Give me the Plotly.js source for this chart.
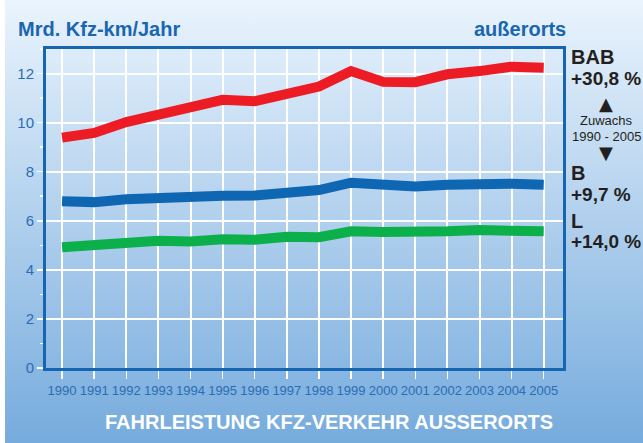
<!DOCTYPE html>
<html>
<head>
<meta charset="utf-8">
<script src="https://cdn.plot.ly/plotly-3.0.1.min.js"></script>
<style>
  html, body { margin: 0; padding: 0; background: #ffffff; }
  #chart { width: 643px; height: 443px; }
</style>
</head>
<body>
<div id="chart"></div>
<script>
// ---- data ----
const years = [1990, 1991, 1992, 1993, 1994, 1995, 1996, 1997, 1998, 1999, 2000, 2001, 2002, 2003, 2004, 2005];
const bab = [9.39, 9.58, 10.02, 10.32, 10.70, 10.93, 10.87, 11.18, 11.47, 12.10, 11.66, 11.65, 11.97, 12.10, 12.28, 12.24];
const bStr = [6.80, 6.76, 6.88, 6.96, 6.99, 7.02, 7.03, 7.18, 7.25, 7.55, 7.44, 7.40, 7.47, 7.51, 7.51, 7.47];
const lStr = [4.92, 5.03, 5.09, 5.19, 5.16, 5.25, 5.23, 5.35, 5.33, 5.57, 5.54, 5.53, 5.57, 5.62, 5.62, 5.57];
const yTicks = [0, 2, 4, 6, 8, 10, 12];
const seriesNames = ['BAB', 'B', 'L'];
const growthLabels = ['+30,8 %', '+9,7 %', '+14,0 %'];

// ---- layout helpers ----
const W = 643, H = 443;
const M = { l: 46, r: 80, t: 49, b: 75 };
const PW = W - M.l - M.r, PH = H - M.t - M.b;
const px = (p) => (p - M.l) / PW;
const py = (p) => (H - M.b - p) / PH;

const bgSvg = '<svg xmlns="http://www.w3.org/2000/svg" width="100" height="100" preserveAspectRatio="none">' +
  '<defs><linearGradient id="g" x1="0" y1="0" x2="0" y2="1">' +
  '<stop offset="0" stop-color="#eaf4fd"/><stop offset="1" stop-color="#76abdd"/>' +
  '</linearGradient></defs><rect width="100" height="100" fill="url(#g)"/></svg>';
const bgUrl = 'data:image/svg+xml;base64,' + btoa(bgSvg);

const colors = ['#ed1c24', '#0f66b3', '#0cb04a'];
const series = [bab, bStr, lStr];

const traces = series.map((vals, i) => ({
  x: years, y: vals, name: seriesNames[i], type: 'scatter', mode: 'lines',
  line: { color: colors[i], width: 10 }, showlegend: false, hoverinfo: 'x+y+name'
}));

const dark = '#231f20';
const blue = '#1a66b0';
const FF = 'Liberation Sans, Arial, sans-serif';
const annotations = [
  { text: '<b>außerorts</b>', x: px(568), y: py(29), xanchor: 'right', yanchor: 'middle',
    font: { family: FF, size: 20, color: blue } },
  { text: '<b>' + seriesNames[0] + '</b>', x: px(569), y: py(57), xanchor: 'left', yanchor: 'middle',
    font: { family: FF, size: 20, color: dark } },
  { text: '<b>' + growthLabels[0] + '</b>', x: px(569), y: py(78), xanchor: 'left', yanchor: 'middle',
    font: { family: FF, size: 19, color: dark } },
  { text: '▲', x: px(606), y: py(103), xanchor: 'center', yanchor: 'middle',
    font: { family: 'DejaVu Sans, sans-serif', size: 18, color: dark } },
  { text: 'Zuwachs', x: px(606), y: py(120), xanchor: 'center', yanchor: 'middle',
    font: { family: FF, size: 13, color: dark } },
  { text: '1990 - 2005', x: px(606), y: py(136), xanchor: 'center', yanchor: 'middle',
    font: { family: FF, size: 13, color: dark } },
  { text: '▼', x: px(606), y: py(152), xanchor: 'center', yanchor: 'middle',
    font: { family: 'DejaVu Sans, sans-serif', size: 18, color: dark } },
  { text: '<b>' + seriesNames[1] + '</b>', x: px(569), y: py(173), xanchor: 'left', yanchor: 'middle',
    font: { family: FF, size: 20, color: dark } },
  { text: '<b>' + growthLabels[1] + '</b>', x: px(569), y: py(194), xanchor: 'left', yanchor: 'middle',
    font: { family: FF, size: 19, color: dark } },
  { text: '<b>' + seriesNames[2] + '</b>', x: px(569), y: py(221), xanchor: 'left', yanchor: 'middle',
    font: { family: FF, size: 20, color: dark } },
  { text: '<b>' + growthLabels[2] + '</b>', x: px(569), y: py(241), xanchor: 'left', yanchor: 'middle',
    font: { family: FF, size: 19, color: dark } },
  { text: '<b>FAHRLEISTUNG KFZ-VERKEHR AUSSERORTS</b>', x: px(329), y: py(422), xanchor: 'center', yanchor: 'middle',
    font: { family: FF, size: 20, color: '#ffffff' } }
].map(a => Object.assign({ xref: 'paper', yref: 'paper', showarrow: false }, a));

const layout = {
  width: W, height: H,
  margin: M,
  paper_bgcolor: '#ffffff',
  plot_bgcolor: 'rgba(0,0,0,0)',
  title: {
    text: '<b>Mrd. Kfz-km/Jahr</b>', xref: 'container', yref: 'container',
    x: 18 / W, xanchor: 'left', y: 1 - 29 / H, yanchor: 'middle',
    font: { family: FF, size: 20, color: blue }
  },
  images: [{
    source: bgUrl, xref: 'paper', yref: 'paper',
    x: px(5), y: py(0), sizex: (W - 5) / PW, sizey: H / PH,
    xanchor: 'left', yanchor: 'top', sizing: 'stretch', layer: 'below'
  }],
  xaxis: {
    range: [1989.5, 2005.6], tickvals: years, ticktext: years.map(String),
    showgrid: true, gridcolor: '#ffffff', gridwidth: 2,
    ticks: 'outside', ticklen: 8, tickwidth: 1.5, tickcolor: '#ffffff',
    showline: true, mirror: true, linecolor: '#1565b0', linewidth: 3,
    zeroline: false, fixedrange: true,
    tickfont: { family: FF, size: 13, color: '#2a6db5' }
  },
  yaxis: {
    range: [0, 13], tickvals: yTicks,
    showgrid: true, gridcolor: '#ffffff', gridwidth: 2,
    ticks: 'outside', ticklen: 6, tickwidth: 1.5, tickcolor: '#ffffff',
    minor: { dtick: 1, ticks: 'outside', ticklen: 3, tickcolor: '#ffffff', tickwidth: 1.5, showgrid: false },
    showline: true, mirror: true, linecolor: '#1565b0', linewidth: 3,
    zeroline: false, fixedrange: true,
    tickfont: { family: FF, size: 15, color: '#2a6db5' }
  },
  annotations: annotations,
  showlegend: false
};

Plotly.newPlot('chart', traces, layout, { displayModeBar: false, staticPlot: true });
</script>
</body>
</html>
